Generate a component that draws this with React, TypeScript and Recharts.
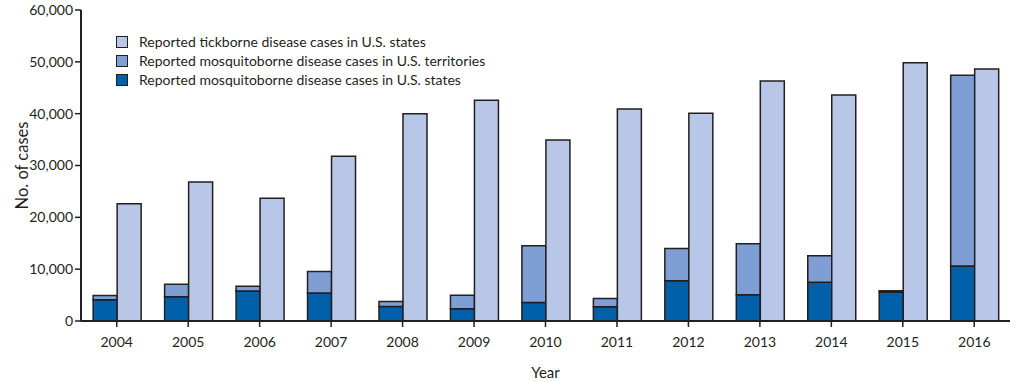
import React from "react";
import { BarChart, Bar, XAxis, YAxis, Label } from "recharts";

const years = ["2004","2005","2006","2007","2008","2009","2010","2011","2012","2013","2014","2015","2016"];
const mosquitoStates = [4100, 4700, 5800, 5400, 2800, 2350, 3570, 2740, 7760, 5050, 7490, 5560, 10600];
const mosquitoTotals = [4900, 7100, 6700, 9550, 3760, 4980, 14500, 4340, 14000, 14900, 12600, 5830, 47400];
const tickStates = [22600, 26800, 23700, 31800, 40000, 42600, 34900, 40900, 40100, 46300, 43600, 49800, 48600];
const yTicks = [0, 10000, 20000, 30000, 40000, 50000, 60000];

const legendItems = [
  { label: "Reported tickborne disease cases in U.S. states", color: "#B8C7E7" },
  { label: "Reported mosquitoborne disease cases in U.S. territories", color: "#7F9FD4" },
  { label: "Reported mosquitoborne disease cases in U.S. states", color: "#0061AA" },
];

const data = years.map((y, i) => ({
  year: y,
  mStates: mosquitoStates[i],
  mTerr: mosquitoTotals[i] - mosquitoStates[i],
  tick: tickStates[i],
}));

const FONT = "Lato, sans-serif";
const STROKE = "#231F20";

const renderLegend = () => (
  <div style={{ position: "absolute", left: 116, top: 32, fontFamily: FONT, fontSize: 14, color: "#231F20" }}>
    {legendItems.map((it) => (
      <div key={it.label} style={{ display: "flex", alignItems: "center", height: 19 }}>
        <div style={{ width: 10, height: 10, background: it.color, border: `1.5px solid ${STROKE}`, marginRight: 11 }} />
        <span>{it.label}</span>
      </div>
    ))}
  </div>
);

export default function App() {
  return (
    <div style={{ position: "absolute", left: 0, top: 0, width: 1020, height: 382, background: "#fff" }}>
      <BarChart
        width={1020}
        height={382}
        data={data}
        margin={{ top: 10, right: 10, left: 0, bottom: 0 }}
        barGap={0}
        barCategoryGap="17%"
      >
        <XAxis
          dataKey="year"
          height={61}
          tickLine={{ stroke: STROKE, strokeWidth: 1.5 }}
          tickSize={6}
          tickMargin={10}
          axisLine={{ stroke: STROKE, strokeWidth: 2 }}
          tick={{ fill: "#231F20", fontSize: 14, fontFamily: FONT }}
          interval={0}
        >
          <Label value="Year" position="insideBottom" offset={4} style={{ fill: "#231F20", fontSize: 15, fontFamily: FONT }} />
        </XAxis>
        <XAxis xAxisId="top" orientation="top" height={0} tick={false} tickLine={false} axisLine={{ stroke: STROKE, strokeWidth: 1.5 }} />
        <YAxis
          width={81}
          domain={[0, 60000]}
          ticks={yTicks}
          tickFormatter={(v: number) => v.toLocaleString("en-US")}
          tickLine={{ stroke: STROKE, strokeWidth: 1.5 }}
          tickSize={6}
          axisLine={{ stroke: STROKE, strokeWidth: 2 }}
          tick={{ fill: "#231F20", fontSize: 14, fontFamily: FONT }}
          interval={0}
        >
          <Label value="No. of cases" angle={-90} position="insideLeft" offset={22} style={{ fill: "#231F20", fontSize: 16.5, fontFamily: FONT, textAnchor: "middle" }} />
        </YAxis>
        <YAxis yAxisId="right" orientation="right" width={0} tick={false} tickLine={false} axisLine={{ stroke: "#555", strokeWidth: 1.5 }} />
        <Bar dataKey="mStates" stackId="m" fill="#0061AA" stroke={STROKE} strokeWidth={1.5} isAnimationActive={false} />
        <Bar dataKey="mTerr" stackId="m" fill="#7F9FD4" stroke={STROKE} strokeWidth={1.5} isAnimationActive={false} />
        <Bar dataKey="tick" fill="#B8C7E7" stroke={STROKE} strokeWidth={1.5} isAnimationActive={false} />
      </BarChart>
      {renderLegend()}
    </div>
  );
}
